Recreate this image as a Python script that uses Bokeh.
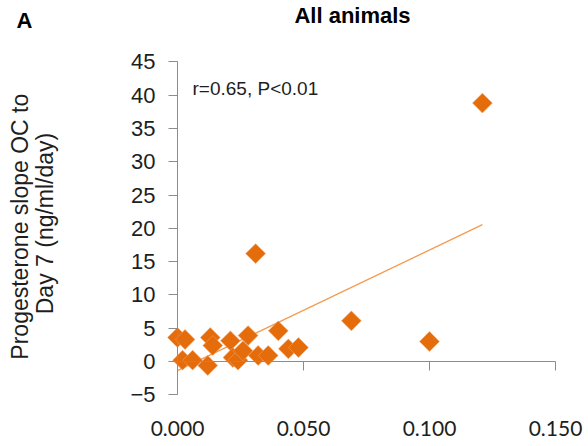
import numpy as np
from bokeh.plotting import figure
from bokeh.models import Label, LinearAxis, FixedTicker, Range1d, NumeralTickFormatter
from bokeh.embed import file_html
from bokeh.resources import INLINE

# Per-animal values: x value vs progesterone slope from OC to day 7 (ng/ml/day)
x_vals = [0.000, 0.003, 0.002, 0.006, 0.012, 0.013, 0.014, 0.021, 0.028, 0.022,
          0.024, 0.026, 0.032, 0.036, 0.040, 0.044, 0.048, 0.031, 0.069, 0.100, 0.121]
y_vals = [3.6, 3.3, 0.2, 0.2, -0.6, 3.6, 2.4, 3.1, 3.9, 0.6,
          0.2, 1.6, 0.9, 0.9, 4.6, 1.9, 2.1, 16.2, 6.1, 3.0, 38.8]

x_ticks = [0.0, 0.05, 0.1, 0.15]
y_ticks = [-5, 0, 5, 10, 15, 20, 25, 30, 35, 40, 45]

title_text = "All animals"
panel_text = "A"
stat_text = "r=0.65, P<0.01"
y_label_lines = ["Progesterone slope  OC to", "Day 7 (ng/ml/day)"]

ORANGE = "#E46C0A"
TREND = "#F39A4F"
AXIS = "#8C8C8C"
TEXT = "#1E1E1E"
FONT = "Liberation Sans"

W, H = 588, 446
# plotting area geometry in pixels: origin of the axes and scale
X0_PX, Y0_PX = 177, 361
X_SCALE = 378 / 0.15      # px per x unit
Y_SCALE = 333 / 50        # px per y unit


def to_x(px):
    return (px - X0_PX) / X_SCALE


def to_y(py):
    return (Y0_PX - py) / Y_SCALE


p = figure(width=W, height=H, output_backend="svg", toolbar_location=None,
           x_range=Range1d(to_x(0), to_x(W)), y_range=Range1d(to_y(H), to_y(0)),
           x_axis_location=None, y_axis_location=None, min_border=0)
p.outline_line_color = None
p.xgrid.visible = False
p.ygrid.visible = False
p.background_fill_color = "white"
p.border_fill_color = "white"

# y axis through x = 0
y_axis = LinearAxis(fixed_location=0, bounds=(y_ticks[0], y_ticks[-1]),
                    ticker=FixedTicker(ticks=y_ticks),
                    axis_line_color=AXIS, major_tick_line_color=AXIS,
                    major_tick_out=9, major_tick_in=0, minor_tick_line_color=None,
                    major_label_standoff=13, major_label_text_font=FONT,
                    major_label_text_font_size="22px", major_label_text_color=TEXT)
p.add_layout(y_axis, "left")

# x axis line through y = 0, ticks pointing down
zero_axis = LinearAxis(fixed_location=0, bounds=(x_ticks[0], x_ticks[-1]),
                       ticker=FixedTicker(ticks=x_ticks),
                       axis_line_color=AXIS, major_tick_line_color=AXIS,
                       major_tick_out=9, major_tick_in=0, minor_tick_line_color=None,
                       major_label_text_alpha=0)
p.add_layout(zero_axis, "below")

# x tick labels along the bottom of the plotting area
label_axis = LinearAxis(fixed_location=y_ticks[0], bounds=(x_ticks[0], x_ticks[-1]),
                        ticker=FixedTicker(ticks=x_ticks),
                        formatter=NumeralTickFormatter(format="0.000"),
                        axis_line_color=None, major_tick_line_color=None,
                        minor_tick_line_color=None, major_label_standoff=20,
                        major_label_text_font="Lato", major_label_text_font_size="21px",
                        major_label_text_color=TEXT)
p.add_layout(label_axis, "below")

# linear trend over the data range
xs = np.array(x_vals)
ys = np.array(y_vals)
slope, intercept = np.polyfit(xs, ys, 1)
tx = np.array([xs.min(), xs.max()])
p.line(tx, slope * tx + intercept, line_color=TREND, line_width=1.3)

# diamond markers
p.scatter(x_vals, y_vals, marker="square", angle=np.pi / 4, size=14,
          fill_color=ORANGE, line_color="#F2A46A", line_width=0.8, line_alpha=0.7)

# correlation note
p.add_layout(Label(x=to_x(192), y=to_y(88), text=stat_text, text_font=FONT,
                   text_font_size="19px", text_color=TEXT, text_baseline="middle"))

# titles
p.add_layout(Label(x=to_x(352), y=to_y(15), text=title_text, text_font=FONT,
                   text_font_size="22px", text_font_style="bold", text_color="#000000",
                   text_align="center", text_baseline="middle"))
p.add_layout(Label(x=to_x(24), y=to_y(20), text=panel_text, text_font=FONT,
                   text_font_size="22px", text_font_style="bold", text_color="#000000",
                   text_align="center", text_baseline="middle"))

# rotated y-axis title, two lines
for line_text, cx in zip(y_label_lines, [19, 44]):
    p.add_layout(Label(x=to_x(cx), y=to_y(223), text=line_text, angle=np.pi / 2,
                       text_font=FONT, text_font_size="23px", text_color=TEXT,
                       text_align="center", text_baseline="middle"))

open("out.html", "w").write(file_html(p, INLINE))
